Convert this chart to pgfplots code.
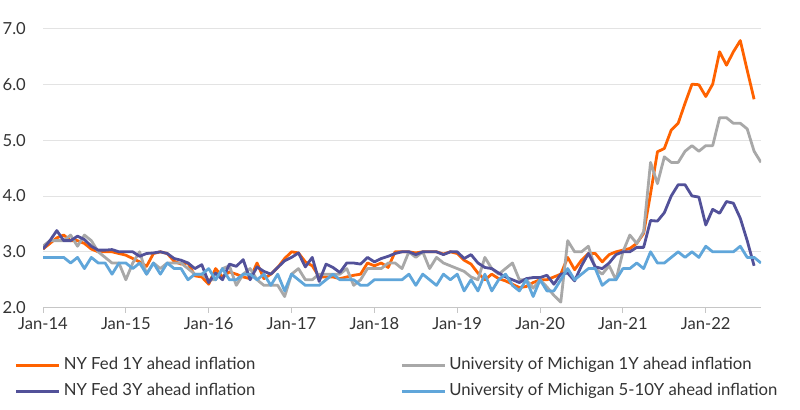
\documentclass[border=0pt]{standalone}
\usepackage{fontspec}
\setmainfont{Lato}
\usepackage{pgfplots}
\usepackage{pgfplotstable}
\pgfplotsset{compat=1.18}

\definecolor{nyfone}{HTML}{FF6200}
\definecolor{michone}{HTML}{A8A8A8}
\definecolor{nyfthree}{HTML}{525199}
\definecolor{michlong}{HTML}{60A6DA}
\definecolor{gridgrey}{HTML}{E3E3E3}
\definecolor{axisgrey}{HTML}{C6C6C6}
\definecolor{labelgrey}{HTML}{333333}

% month index (0 = Jan-14), NY Fed 1Y, Michigan 1Y, NY Fed 3Y, Michigan 5-10Y
\pgfplotstableread{
m nyf1 mich1 nyf3 mich510
0 3.05 3.1 3.05 2.9
1 3.15 3.2 3.20 2.9
2 3.25 3.2 3.38 2.9
3 3.30 3.2 3.20 2.9
4 3.20 3.3 3.20 2.8
5 3.20 3.1 3.28 2.9
6 3.15 3.3 3.22 2.7
7 3.05 3.2 3.10 2.9
8 3.00 3.0 3.03 2.8
9 3.00 2.9 3.03 2.8
10 3.00 2.8 3.04 2.6
11 2.97 2.8 3.00 2.8
12 2.94 2.5 3.00 2.8
13 2.88 2.8 3.00 2.7
14 2.82 3.0 2.92 2.8
15 2.74 2.6 2.97 2.6
16 2.97 2.8 2.98 2.8
17 3.00 2.7 3.00 2.6
18 2.97 2.8 2.97 2.8
19 2.83 2.8 2.88 2.7
20 2.78 2.8 2.85 2.7
21 2.80 2.7 2.80 2.5
22 2.57 2.6 2.70 2.6
23 2.55 2.6 2.77 2.6
24 2.42 2.5 2.45 2.7
25 2.70 2.5 2.62 2.5
26 2.55 2.7 2.50 2.7
27 2.64 2.75 2.78 2.5
28 2.60 2.4 2.74 2.5
29 2.55 2.6 2.86 2.6
30 2.52 2.7 2.50 2.6
31 2.80 2.5 2.73 2.5
32 2.52 2.4 2.65 2.6
33 2.60 2.4 2.60 2.4
34 2.72 2.4 2.72 2.6
35 2.88 2.2 2.84 2.3
36 3.00 2.6 2.90 2.6
37 2.98 2.7 2.98 2.5
38 2.82 2.5 2.73 2.4
39 2.75 2.5 2.90 2.4
40 2.55 2.6 2.47 2.4
41 2.55 2.6 2.78 2.5
42 2.55 2.6 2.72 2.6
43 2.52 2.6 2.63 2.5
44 2.55 2.7 2.80 2.5
45 2.58 2.4 2.80 2.5
46 2.60 2.5 2.78 2.4
47 2.80 2.7 2.90 2.4
48 2.75 2.7 2.82 2.5
49 2.80 2.7 2.88 2.5
50 2.72 2.8 2.92 2.5
51 3.00 2.8 2.97 2.5
52 3.00 2.7 3.00 2.5
53 3.00 3.0 3.00 2.6
54 2.98 2.9 2.95 2.4
55 3.00 3.0 3.00 2.6
56 3.00 2.7 3.00 2.5
57 3.00 2.9 3.00 2.4
58 2.96 2.8 2.95 2.6
59 3.00 2.75 3.00 2.5
60 2.97 2.7 3.00 2.6
61 2.85 2.65 2.88 2.3
62 2.78 2.55 2.95 2.5
63 2.62 2.5 2.80 2.3
64 2.50 2.9 2.72 2.6
65 2.60 2.7 2.70 2.3
66 2.52 2.6 2.62 2.5
67 2.48 2.7 2.55 2.6
68 2.42 2.8 2.50 2.4
69 2.36 2.5 2.45 2.3
70 2.38 2.5 2.52 2.5
71 2.45 2.35 2.54 2.2
72 2.50 2.5 2.54 2.5
73 2.50 2.37 2.58 2.3
74 2.55 2.22 2.42 2.3
75 2.60 2.1 2.60 2.5
76 2.90 3.2 2.62 2.7
77 2.68 3.0 2.48 2.5
78 2.85 3.0 2.75 2.6
79 2.97 3.1 2.97 2.7
80 2.97 2.7 2.73 2.7
81 2.82 2.6 2.70 2.4
82 2.95 2.75 2.80 2.5
83 3.00 2.5 2.95 2.5
84 3.03 3.0 3.00 2.7
85 3.06 3.3 3.00 2.7
86 3.15 3.15 3.08 2.8
87 3.33 3.36 3.08 2.7
88 4.04 4.6 3.56 3.0
89 4.79 4.22 3.55 2.8
90 4.85 4.7 3.70 2.8
91 5.18 4.6 4.00 2.9
92 5.30 4.6 4.20 3.0
93 5.66 4.8 4.20 2.9
94 6.00 4.9 4.00 3.0
95 5.99 4.8 3.98 2.9
96 5.78 4.9 3.48 3.1
97 6.00 4.9 3.76 3.0
98 6.58 5.4 3.69 3.0
99 6.34 5.4 3.90 3.0
100 6.58 5.3 3.87 3.0
101 6.78 5.3 3.60 3.1
102 6.25 5.2 3.20 2.9
103 5.73 4.8 2.75 2.9
104 nan 4.6 nan 2.8
}\expdata

\begin{document}
\begin{tikzpicture}
\path[use as bounding box] (-43bp,-102.3bp) rectangle (757bp,307.7bp);
\begin{axis}[
  at={(0,0)}, anchor=south west,
  scale only axis, width=718bp, height=279.4bp,
  xmin=0, xmax=104, ymin=2, ymax=7,
  xtick={0,12,...,96},
  xticklabels={Jan-14,Jan-15,Jan-16,Jan-17,Jan-18,Jan-19,Jan-20,Jan-21,Jan-22},
  ytick={2,3,...,7},
  yticklabels={2.0,3.0,4.0,5.0,6.0,7.0},
  axis x line=bottom, axis y line=left,
  x axis line style={-, draw=axisgrey, line width=1.2bp},
  y axis line style={draw=none},
  ymajorgrids, grid style={gridgrey, line width=0.8bp},
  xtick style={draw=axisgrey, line width=1bp},
  ytick style={draw=none},
  tick align=outside, major tick length=5bp,
  tick label style={font=\fontsize{16.6bp}{19bp}\selectfont, text=labelgrey},
  xticklabel style={inner sep=0pt, yshift=-5bp},
  yticklabel style={inner sep=0pt, xshift=-12bp},
  legend columns=2, legend cell align=left,
  legend image code/.code={\draw[#1] (0bp,0bp) -- (43bp,0bp);},
  legend style={at={(0,0)}, anchor=north west, xshift=-28bp, yshift=-51bp,
    draw=none, fill=none, inner sep=0pt, outer sep=0pt, row sep=12bp,
    nodes={inner sep=0pt, text height=11bp, text depth=3bp,
      font=\fontsize{16.7bp}{19bp}\selectfont, text=labelgrey},
    /tikz/every odd column/.style={column sep=3bp},
    /tikz/every even column/.style={column sep=145bp}},
  every axis plot/.append style={line width=2.8bp, line join=round},
]
\addplot[nyfone] table[x=m, y=nyf1] {\expdata};
\addlegendentry{NY Fed 1Y ahead inflation}
\addplot[michone] table[x=m, y=mich1] {\expdata};
\addlegendentry{University of Michigan 1Y ahead inflation}
\addplot[nyfthree] table[x=m, y=nyf3] {\expdata};
\addlegendentry{NY Fed 3Y ahead inflation}
\addplot[michlong] table[x=m, y=mich510] {\expdata};
\addlegendentry{University of Michigan 5-10Y ahead inflation}
\end{axis}
\end{tikzpicture}
\end{document}
